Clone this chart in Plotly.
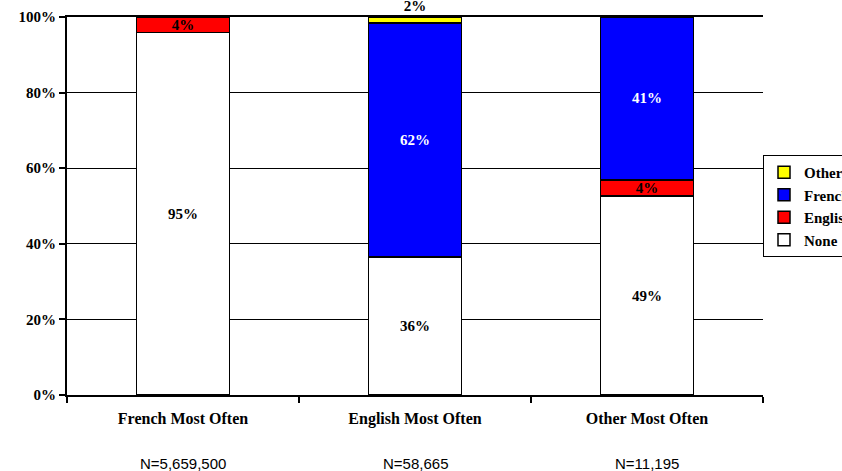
import plotly.graph_objects as go

categories = ["French Most Often", "English Most Often", "Other Most Often"]
n_labels = ["N=5,659,500", "N=58,665", "N=11,195"]

none_vals = [95.9, 36.5, 52.6]
english_vals = [4.1, 0.0, 4.3]
french_vals = [0.0, 61.9, 43.1]
other_vals = [0.0, 1.6, 0.0]

none_text = ["95%", "36%", "49%"]
english_text = ["4%", "", "4%"]
french_text = ["", "62%", "41%"]
other_text = ["", "2%", ""]

y_ticks = [0, 20, 40, 60, 80, 100]
y_tick_text = ["0%", "20%", "40%", "60%", "80%", "100%"]

serif = "Liberation Serif"
sans = "Liberation Sans"

series = [
    ("None", none_vals, none_text, "#FFFFFF", "black", "inside"),
    ("English", english_vals, english_text, "#FF0000", "black", "inside"),
    ("French", french_vals, french_text, "#0000FF", "white", "inside"),
    ("Other", other_vals, other_text, "#FFFF00", "black", "outside"),
]

fig = go.Figure()
for name, vals, txt, col, tcol, tpos in series:
    fig.add_trace(go.Bar(
        x=categories, y=vals, name=name, text=txt,
        textposition=tpos, insidetextanchor="middle",
        textfont=dict(family=serif, size=15, color=tcol, weight="bold"),
        marker=dict(color=col, line=dict(color="black", width=1.5)),
        cliponaxis=False,
    ))

for cat, lab in zip(categories, n_labels):
    fig.add_annotation(x=cat, xref="x", y=-0.18, yref="paper", text=lab,
                       showarrow=False, yanchor="middle",
                       font=dict(family=sans, size=15, color="black"))

fig.update_layout(
    width=842, height=471,
    margin=dict(l=67, r=79, t=17, b=76, autoexpand=False),
    barmode="stack", bargap=0.6,
    plot_bgcolor="white", paper_bgcolor="white",
    uniformtext=dict(mode="show", minsize=15),
    showlegend=True,
    legend=dict(x=1.0, xanchor="left", y=0.5, yanchor="middle",
                traceorder="reversed",
                bordercolor="black", borderwidth=1,
                font=dict(family=serif, size=15, color="black", weight="bold")),
    font=dict(family=serif, color="black"),
)
fig.update_xaxes(showline=True, linecolor="black", linewidth=2, mirror=True,
                 ticks="outside", tickson="boundaries", ticklen=6, tickwidth=2,
                 tickcolor="black", showgrid=False, ticklabelstandoff=8,
                 tickfont=dict(family=serif, size=16, color="black", weight="bold"))
fig.update_yaxes(range=[0, 100], tickmode="array", tickvals=y_ticks, ticktext=y_tick_text,
                 showline=True, linecolor="black", linewidth=2,
                 ticks="outside", ticklen=6, tickwidth=2, tickcolor="black",
                 showgrid=True, gridcolor="black", gridwidth=1, zeroline=False,
                 tickfont=dict(family=serif, size=15, color="black", weight="bold"))

fig.write_html("out.html", config={"displayModeBar": False},
               post_script="document.body.style.margin='0px';document.body.style.overflow='hidden';")
